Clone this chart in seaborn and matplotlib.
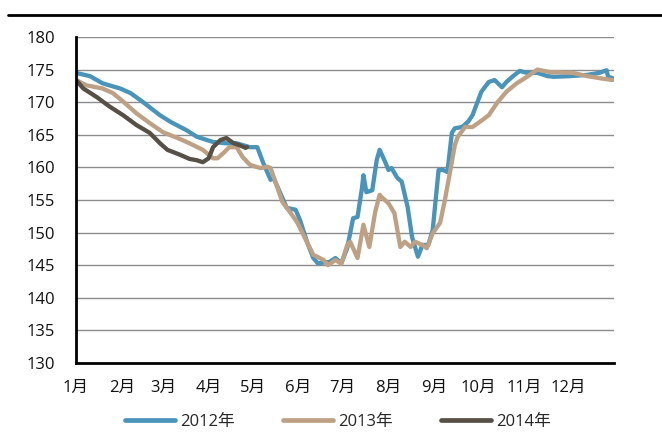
import matplotlib
matplotlib.use("Agg")
import matplotlib.pyplot as plt
from matplotlib.lines import Line2D
import numpy as np
import pandas as pd
import seaborn as sns

# day-of-year positions and prices
days_2012 = [0, 9.5, 18, 30, 37, 45, 57, 64, 75, 82, 93, 102, 109, 118, 123, 127, 132, 134,
             143, 149, 152, 157, 161, 164, 172, 176, 180, 184, 188, 191, 194, 195, 197, 201,
             204, 206, 210, 212, 214, 218, 221, 225, 228, 232, 235, 239, 242, 246, 249, 252,
             255, 257, 262, 266, 269, 275, 280, 284, 289, 292, 296, 301, 306, 313, 320, 324,
             335, 347, 355, 360, 361, 364]
price_2012 = [174.5, 174.0, 172.9, 172.1, 171.4, 170.1, 168.0, 167.0, 165.7, 164.7, 163.9,
              163.7, 163.7, 163.1, 163.1, 160.7, 158.1, 158.4, 153.8, 153.5, 151.9, 148.4,
              146.1, 145.3, 145.5, 146.1, 145.3, 147.6, 152.2, 152.4, 156.8, 158.8, 156.2,
              156.5, 161.1, 162.7, 160.7, 159.6, 159.9, 158.4, 157.8, 153.9, 149.3, 146.3,
              148.1, 148.1, 150.4, 159.6, 159.6, 159.3, 165.3, 166.0, 166.2, 167.0, 168.0,
              171.6, 173.1, 173.4, 172.3, 173.1, 173.9, 174.8, 174.5, 174.5, 174.0, 173.9,
              174.0, 174.2, 174.5, 174.9, 173.9, 173.7]

days_2013 = [0, 7, 18, 25, 32, 41, 50, 59, 69, 77, 86, 93, 96, 100, 104, 109, 113, 118, 125,
             130, 132, 140, 145, 150, 157, 161, 168, 171, 176, 180, 184, 186, 191, 195, 199,
             203, 206, 208, 212, 216, 218, 220, 223, 227, 230, 235, 238, 242, 247, 250, 254,
             257, 259, 264, 269, 274, 280, 286, 292, 299, 306, 313, 322, 328, 337, 347, 355,
             364]
price_2013 = [173.4, 172.6, 172.1, 171.4, 170.1, 168.3, 166.8, 165.4, 164.5, 163.7, 162.7,
              161.4, 161.4, 162.2, 163.1, 163.1, 161.6, 160.4, 159.9, 160.1, 159.9, 154.7,
              153.2, 151.6, 148.4, 146.6, 145.8, 145.0, 145.8, 145.2, 148.1, 148.6, 146.1,
              151.2, 147.8, 153.2, 155.8, 155.3, 154.5, 153.0, 150.4, 147.8, 148.6, 147.8,
              148.6, 148.1, 147.6, 149.9, 151.5, 154.7, 159.6, 163.4, 164.7, 166.2, 166.2,
              167.0, 168.0, 170.0, 171.6, 172.9, 173.9, 175.0, 174.6, 174.6, 174.5, 174.0,
              173.7, 173.4]

days_2014 = [0, 5, 14, 23, 32, 41, 50, 57, 62, 71, 77, 82, 86, 90, 93, 98, 102, 107, 111,
             115, 116]
price_2014 = [173.4, 172.1, 170.8, 169.3, 168.0, 166.5, 165.3, 163.7, 162.7, 161.9, 161.3,
              161.1, 160.8, 161.4, 163.1, 164.2, 164.5, 163.7, 163.4, 163.0, 163.1]

month_starts = [0, 31, 59, 90, 120, 151, 181, 212, 243, 273, 304, 334]
month_labels = ["1月", "2月", "3月", "4月", "5月", "6月", "7月", "8月", "9月", "10月", "11月", "12月"]
y_ticks = [130, 135, 140, 145, 150, 155, 160, 165, 170, 175, 180]

series = ["2012年", "2013年", "2014年"]
colors = {"2012年": "#4a93b9", "2013年": "#bea184", "2014年": "#565047"}

df = pd.concat([
    pd.DataFrame({"day": days_2012, "price": price_2012, "year": series[0]}),
    pd.DataFrame({"day": days_2013, "price": price_2013, "year": series[1]}),
    pd.DataFrame({"day": days_2014, "price": price_2014, "year": series[2]}),
], ignore_index=True)

sns.set_style("white")
plt.rcParams["font.family"] = ["Open Sans", "Noto Sans CJK SC", "DejaVu Sans"]

fig = plt.figure(figsize=(6.62, 4.33), dpi=100)
ax = fig.add_axes([0.1148, 0.1617, 0.8127, 0.7528])

for y in y_ticks[1:]:
    ax.axhline(y, color="#8c8c8c", lw=1.0, zorder=0)

sns.lineplot(data=df, x="day", y="price", hue="year", palette=colors, hue_order=series,
             estimator=None, sort=False, lw=3.1, ax=ax, legend=False)

ax.set_xlim(0, 365)
ax.set_ylim(130, 180)
ax.set_xticks(month_starts)
ax.set_xticklabels(month_labels)
ax.set_yticks(y_ticks)
ax.tick_params(axis="both", length=0, labelsize=12, colors="#111111")
ax.tick_params(axis="y", pad=15)
ax.tick_params(axis="x", pad=12)
ax.set_xlabel("")
ax.set_ylabel("")
for side in ["top", "right"]:
    ax.spines[side].set_visible(False)
for side in ["left", "bottom"]:
    ax.spines[side].set_color("black")
    ax.spines[side].set_linewidth(2.0)

handles = [Line2D([], [], color=colors[s], lw=3.4) for s in series]
fig.legend(handles, series, loc="center", bbox_to_anchor=(0.51, 0.025), ncol=3,
           frameon=False, fontsize=12, handlelength=3.0, handletextpad=0.3,
           columnspacing=2.9)

fig.add_artist(Line2D([0.012, 1.0], [0.965, 0.965], color="black", lw=2.0,
                      transform=fig.transFigure))

fig.savefig("out.png", dpi=100)
